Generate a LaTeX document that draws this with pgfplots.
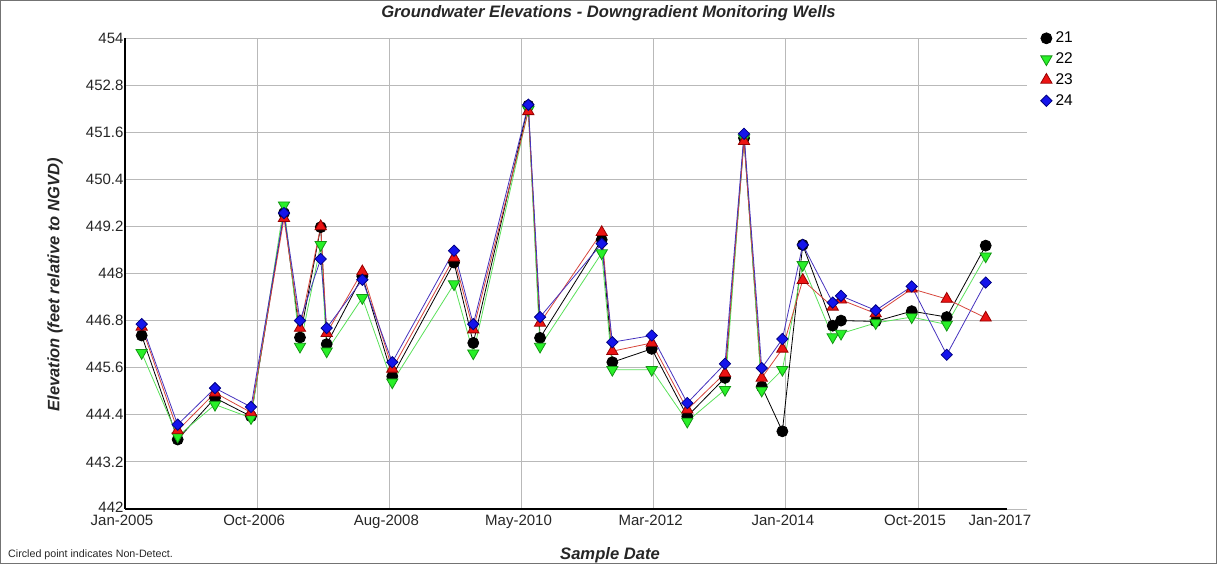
\documentclass[border=0pt]{standalone}
\usepackage{fontspec}
\setmainfont{Liberation Sans}
\usepackage{pgfplots}
\pgfplotsset{compat=1.18}
\usepackage{pgfplotstable}
\definecolor{gridgray}{RGB}{185,185,185}
\definecolor{gfill}{RGB}{40,240,40}
\definecolor{gdraw}{RGB}{20,150,20}
\definecolor{gline}{RGB}{90,225,90}
\definecolor{rfill}{RGB}{235,20,20}
\definecolor{rdraw}{RGB}{150,0,0}
\definecolor{rline}{RGB}{215,70,60}
\definecolor{bfill}{RGB}{20,20,235}
\definecolor{bdraw}{RGB}{0,0,130}
\definecolor{bline}{RGB}{70,50,190}

\pgfplotstableread{
x        w21    w22    w23    w24
2005.226 446.42 445.98 446.64 446.71
2005.714 443.77 443.85 444.00 444.15
2006.220 444.83 444.66 444.96 445.08
2006.708 444.36 444.32 444.46 444.60
2007.155 449.54 449.74 449.41 449.54
2007.372 446.37 446.14 446.61 446.80
2007.653 449.18 448.73 449.20 448.37
2007.734 446.20 446.02 446.48 446.61
2008.217 447.93 447.38 448.05 447.84
2008.623 445.38 445.23 445.57 445.74
2009.460 448.28 447.73 448.40 448.58
2009.721 446.23 445.97 446.57 446.71
2010.467 452.28 452.17 452.13 452.30
2010.626 446.36 446.14 446.74 446.89
2011.462 448.86 448.52 449.05 448.76
2011.606 445.74 445.55 446.02 446.25
2012.140 446.08 445.55 446.23 446.42
2012.622 444.36 444.23 444.53 444.70
2013.133 445.34 445.04 445.46 445.70
2013.391 451.45 451.45 451.37 451.56
2013.631 445.12 445.02 445.34 445.59
2013.911 443.98 445.55 446.08 446.33
2014.187 448.73 448.22 447.83 448.73
2014.593 446.67 446.38 447.15 447.26
2014.706 446.80 446.47 447.33 447.43
2015.176 446.78 446.74 446.98 447.06
2015.664 447.04 446.89 447.61 447.67
2016.139 446.89 446.70 447.35 445.93
2016.667 448.71 448.44 446.87 447.77
}\wells

\begin{document}
\begin{tikzpicture}
\useasboundingbox (0pt,0pt) rectangle (1217pt,564pt);
\draw[draw=black!55, line width=1pt] (0.5pt,0.5pt) rectangle (1216.5pt,563.5pt);
\begin{axis}[
  at={(125pt,55pt)}, anchor=south west,
  scale only axis, width=902pt, height=471pt,
  xmin=2005, xmax=2017.227, ymin=442, ymax=454,
  axis line style={draw=none},
  grid=major, grid style={gridgray, line width=0.9pt},
  major tick length=0pt,
  xtick={2005,2006.7917,2008.5833,2010.375,2012.1667,2013.9583,2015.75},
  xticklabels={Jan-2005,Oct-2006,Aug-2008,May-2010,Mar-2012,Jan-2014,Oct-2015},
  extra x ticks={2016.90},
  extra x tick labels={Jan-2017},
  extra x tick style={grid=none},
  ytick={442,443.2,444.4,445.6,446.8,448,449.2,450.4,451.6,452.8,454},
  yticklabels={\raisebox{3pt}{442},443.2,444.4,445.6,446.8,448,449.2,450.4,451.6,452.8,454},
  /pgf/number format/assume math mode=true,
  tick label style={font=\fontsize{15}{18}\selectfont, text=black!85},
  xticklabel style={xshift=-3pt, yshift=-2.5pt},
  yticklabel style={xshift=2pt},
  every axis title shift=0pt,
  title={Groundwater Elevations - Downgradient Monitoring Wells},
  title style={at={(rel axis cs:0.536,1.053)}, anchor=center, font=\bfseries\itshape\fontsize{16.6}{19}\selectfont, text=black!85},
  xlabel={Sample Date},
  xlabel style={at={(rel axis cs:0.5377,-0.0977)}, anchor=center, font=\bfseries\itshape\fontsize{16.6}{19}\selectfont, text=black!85},
  ylabel={Elevation (feet relative to NGVD)},
  ylabel style={at={(rel axis cs:-0.0776,0.4756)}, anchor=center, font=\bfseries\itshape\fontsize{16.5}{19}\selectfont, text=black!85},
  legend style={at={(rel axis cs:1.015,1.016)}, anchor=north west, draw=none, fill=none,
    font=\fontsize{15.5}{17}\selectfont, row sep=5.5pt, inner sep=0pt,
    nodes={inner sep=1.5pt}},
  legend cell align=left,
  legend image code/.code={\draw[#1] plot coordinates {(5pt,0pt)};},
  legend style={column sep=2pt},
  clip=false,
]
\draw[black, line width=1.1pt] (rel axis cs:0,0) -- (rel axis cs:0,1);
\draw[black, line width=1.1pt] (rel axis cs:0,0) -- (axis cs:2016.96,442);
\addplot[color=black, line width=0.8pt, mark=*, mark size=5.5pt,
  mark options={solid, fill=black, draw=black}] table[x=x, y=w21] {\wells};
\addplot[color=gline, line width=0.8pt, mark=triangle*, mark size=6.5pt,
  mark options={solid, rotate=180, fill=gfill, draw=gdraw}] table[x=x, y=w22] {\wells};
\addplot[color=rline, line width=0.8pt, mark=triangle*, mark size=6.5pt,
  mark options={solid, fill=rfill, draw=rdraw}] table[x=x, y=w23] {\wells};
\addplot[color=bline, line width=0.8pt, mark=square*, mark size=4pt,
  mark options={solid, rotate=45, fill=bfill, draw=bdraw}] table[x=x, y=w24] {\wells};
\legend{21,22,23,24}
\end{axis}
\node[anchor=west, font=\fontsize{10.7}{12}\selectfont, text=black!85, inner sep=0pt] at (8pt,9pt) {Circled point indicates Non-Detect.};
\end{tikzpicture}
\end{document}
